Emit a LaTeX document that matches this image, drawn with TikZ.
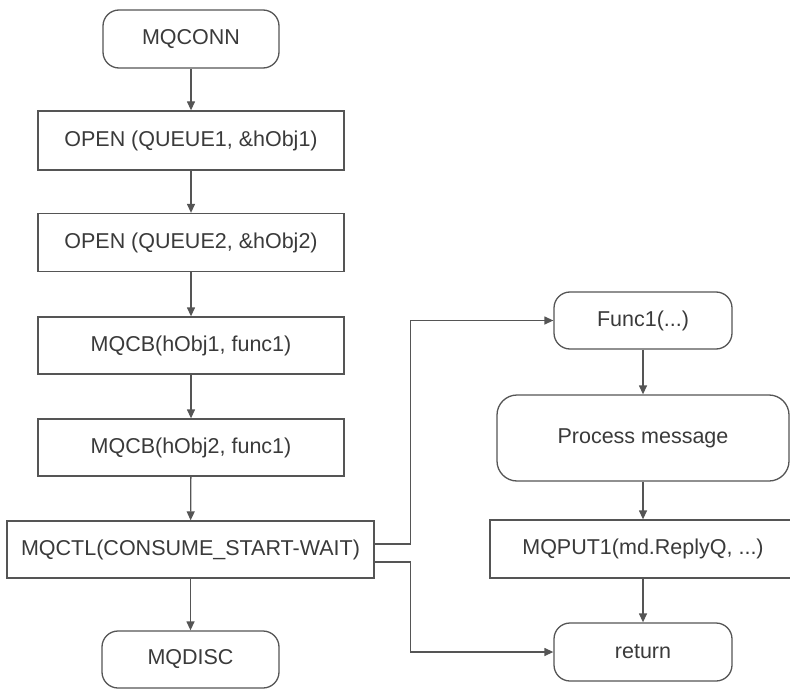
\documentclass[tikz,border=0pt]{standalone}
\usepackage{fontspec}
\setmainfont{Liberation Sans}
\usetikzlibrary{arrows.meta}
\definecolor{txt}{HTML}{3A3A3A}
\definecolor{ln}{HTML}{555555}
\tikzset{
  box/.style={draw=ln, line width=1.3pt, inner sep=0pt, text=txt,
    font=\fontsize{21.5pt}{25pt}\selectfont},
  termbox/.style={box, rounded corners=16pt},
  procbox/.style={box, rounded corners=20pt},
  arr/.style={draw=ln, line width=1.3pt, -{Triangle[length=9pt,width=8pt]}}
}
\begin{document}
\begin{tikzpicture}[x=1pt,y=-1pt]
\useasboundingbox (0,0) rectangle (790,690);
\node[termbox, minimum width=176pt, minimum height=58pt] (conn) at (191,39) {MQCONN};
\node[box, minimum width=306pt, minimum height=59pt] (open1) at (191,140.5) {OPEN (QUEUE1, \&hObj1)};
\node[box, minimum width=306pt, minimum height=58pt] (open2) at (191,242.5) {OPEN (QUEUE2, \&hObj2)};
\node[box, minimum width=306pt, minimum height=57pt] (cb1) at (191,345.5) {MQCB(hObj1, func1)};
\node[box, minimum width=306pt, minimum height=57pt] (cb2) at (191,447.5) {MQCB(hObj2, func1)};
\node[box, minimum width=367pt, minimum height=57pt] (ctl) at (190.5,549.5) {MQCTL(CONSUME\_START-WAIT)};
\node[termbox, minimum width=177pt, minimum height=57pt] (disc) at (190.5,659.5) {MQDISC};
\node[termbox, minimum width=178pt, minimum height=57pt] (func) at (643,320.5) {Func1(...)};
\node[procbox, minimum width=292pt, minimum height=86pt] (proc) at (643,438) {Process message};
\node[box, minimum width=306pt, minimum height=58pt] (put) at (643,549) {MQPUT1(md.ReplyQ, ...)};
\node[termbox, minimum width=178pt, minimum height=58pt] (ret) at (643,652) {return};
\draw[arr] (conn) -- (open1);
\draw[arr] (open1) -- (open2);
\draw[arr] (open2) -- (cb1);
\draw[arr] (cb1) -- (cb2);
\draw[arr] (cb2) -- (ctl);
\draw[arr] (ctl) -- (disc);
\draw[arr] (func) -- (proc);
\draw[arr] (proc) -- (put);
\draw[arr] (put) -- (ret);
\draw[arr] ([yshift=5.5pt]ctl.east) -- ++(36,0) |- (func.west);
\draw[arr] ([yshift=-12.5pt]ctl.east) -- ++(36,0) |- (ret.west);
\end{tikzpicture}
\end{document}
